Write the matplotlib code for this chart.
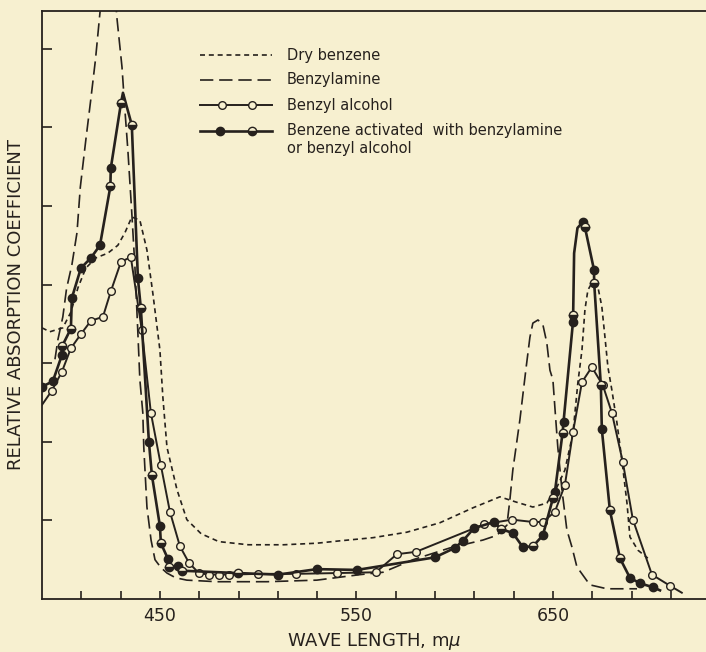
import numpy as np
import matplotlib.pyplot as plt
from matplotlib.lines import Line2D

# wave length (m-mu) and relative absorption
dry_wl = [390, 394, 400.6, 404.7, 408.3, 412.3, 417.4, 423.5, 428.6, 432.2, 435.7, 439.8,
          443.4, 446.4, 450, 451.5, 453.6, 458.7, 463.7, 471, 480, 495, 513, 530, 541.6,
          558.4, 575.7, 592.5, 609.3, 623, 631.7, 639.8, 646.9, 652, 656.1, 660.2, 662.7,
          664.8, 666.3, 667.8, 669.8, 670.9, 672.9, 674.9, 676.5, 678, 680, 682.6, 685.1,
          687.7, 689.2, 693.3, 698.3]
dry_val = [3.45, 3.40, 3.45, 3.65, 3.96, 4.21, 4.34, 4.40, 4.50, 4.66, 4.86, 4.82,
           4.44, 3.89, 3.17, 2.57, 1.93, 1.39, 1.01, 0.83, 0.73, 0.69, 0.69, 0.71, 0.74,
           0.78, 0.85, 0.97, 1.16, 1.30, 1.23, 1.17, 1.22, 1.42, 1.64, 2.11, 2.75,
           3.17, 3.68, 3.93, 4.02, 4.03, 3.97, 3.72, 3.33, 2.95, 2.66, 2.24, 1.77,
           1.22, 0.79, 0.62, 0.52]

bza_wl = [396.6, 398.1, 400.6, 402.5, 405.2, 407.8, 409.5, 412.3, 414.8, 417.2,
          419.5, 421.5, 424, 426.5, 428.1, 430.7, 432.2, 433.7, 435.7, 437.3,
          438.8, 439.8, 441.3, 441.8, 443.4, 445.5, 447.5, 450.5, 453.6, 458,
          463.7, 479, 504.5, 529.9, 551.8, 563.5, 578.8, 597.6, 614.4, 621.5,
          626.6, 628.1, 629.6, 633.2, 636.4, 638.3, 639.8, 642.4, 644.9, 646.9,
          648.5, 650, 651, 652.5, 654.6, 657.1, 659.7, 662.2, 668.8, 677.5, 692.8]
bza_val = [3.05, 3.30, 3.59, 3.95, 4.25, 4.66, 5.24, 5.84, 6.35, 6.86,
           7.46, 7.95, 8.15, 7.95, 7.40, 6.77, 6.22, 5.71, 4.91, 4.22,
           3.38, 2.79, 2.37, 1.93, 1.17, 0.75, 0.50, 0.40, 0.33, 0.27,
           0.24, 0.22, 0.22, 0.24, 0.31, 0.34, 0.50, 0.65, 0.75, 0.81,
           0.94, 1.26, 1.64, 2.28, 2.95, 3.33, 3.51, 3.55, 3.49, 3.26,
           2.91, 2.79, 2.44, 1.93, 1.39, 0.88, 0.66, 0.41, 0.18, 0.13, 0.13]

alc_wl = [390.0, 395.0, 400.1, 404.7, 409.8, 414.9, 421.0, 425.1, 430.2, 435.2,
          440.8, 445.4, 450.5, 455.1, 460.2, 464.8, 469.8, 474.9, 480.0, 485.1,
          499.9, 519.2, 540.1, 559.9, 570.6, 580.3, 614.9, 629.1, 639.8, 644.9,
          651.0, 656.1, 660.2, 664.8, 669.8, 675.4, 680.0, 685.6, 690.7, 700.4,
          709.5, 715.6]
alc_val = [2.47, 2.65, 2.89, 3.19, 3.37, 3.54, 3.59, 3.92, 4.29, 4.35,
           3.42, 2.37, 1.70, 1.11, 0.67, 0.46, 0.33, 0.31, 0.31, 0.31,
           0.32, 0.32, 0.33, 0.34, 0.57, 0.60, 0.95, 1.01, 0.98, 0.98,
           1.11, 1.45, 2.12, 2.76, 2.95, 2.72, 2.37, 1.74, 1.01, 0.31,
           0.17, 0.08]

# activated benzene: f = filled point, h = half filled point, '' = no point
act_wl = [390.0, 395.5, 400.1, 400.3, 404.7, 405.2, 409.8, 414.9, 419.5, 424.8,
          425.0, 430.2, 431.2, 435.7, 438.8, 440.3, 444.4, 445.9, 450.0, 450.5,
          454.1, 454.6, 459.2, 461.2, 489.7, 510.1, 529.9, 550.3, 590.0, 600.1,
          604.2, 609.8, 620.0, 623.5, 629.6, 634.7, 639.8, 644.9, 650.0, 651.0,
          654.9, 655.4, 660.2, 660.3, 660.8, 662.5, 665.3, 666.3, 670.9, 671.0,
          674.4, 674.9, 679.0, 684.1, 689.2, 694.3, 700.9, 704.5]
act_val = [2.70, 2.77, 3.10, 3.22, 3.44, 3.83, 4.21, 4.34, 4.50, 5.25,
           5.48, 6.31, 6.44, 6.03, 4.08, 3.70, 2.00, 1.58, 0.93, 0.71,
           0.51, 0.41, 0.42, 0.36, 0.33, 0.31, 0.38, 0.37, 0.53, 0.65,
           0.74, 0.90, 0.98, 0.89, 0.84, 0.66, 0.67, 0.81, 1.28, 1.36,
           2.11, 2.25, 3.52, 3.61, 4.40, 4.72, 4.80, 4.73, 4.19, 4.02,
           2.72, 2.16, 1.13, 0.52, 0.27, 0.20, 0.15, 0.11]
act_mark = ['f', 'f', 'f', 'h', 'h', 'f', 'f', 'f', 'f', 'h',
            'f', 'h', '', 'h', 'f', 'h', 'f', 'h', 'f', 'h',
            'f', 'h', 'f', 'h', 'h', 'f', 'f', 'f', 'f', 'f',
            'f', 'f', 'f', 'h', 'f', 'f', 'h', 'f', 'h', 'f',
            'h', 'f', 'f', 'h', '', '', 'f', 'h', 'f', 'h',
            'h', 'f', 'h', 'h', 'f', 'f', 'f', '']

labels = ['Dry benzene', 'Benzylamine', 'Benzyl alcohol',
          'Benzene activated  with benzylamine', 'or benzyl alcohol']
tick_pos = list(range(410, 730, 20))
tick_txt = ['450', '550', '650']

bg = '#f7f0d0'
ink = '#26211d'

plt.rcParams['font.family'] = ['DejaVu Sans']
fig = plt.figure(figsize=(7.06, 6.52), dpi=100, facecolor=bg)
ax = fig.add_axes([42 / 706, 53 / 652, 664 / 706, 588 / 652])
ax.set_facecolor(bg)

ax.plot(dry_wl, dry_val, color=ink, lw=1.2, dashes=(3.0, 2.3))
ax.plot(bza_wl, bza_val, color=ink, lw=1.2, dashes=(8, 3.5))
ax.plot(alc_wl, alc_val, color=ink, lw=1.4, marker='o', ms=5.5, mfc=bg, mec=ink,
        mew=1.0, markevery=slice(1, -1))
ax.plot(act_wl, act_val, color=ink, lw=1.9)

aw = np.array(act_wl)
av = np.array(act_val)
am = np.array(act_mark)
ax.plot(aw[am == 'f'], av[am == 'f'], ls='none', marker='o', ms=6, mfc=ink, mec=ink)
ax.plot(aw[am == 'h'], av[am == 'h'], ls='none', marker='o', ms=6, mfc=ink,
        mfcalt=bg, fillstyle='bottom', mec=ink, mew=1.0)

ax.set_xlim(390, 390 + 664 / 1.965)
ax.set_ylim(0, 588 / 78.6)
ax.set_xticks(tick_pos)
ax.set_xticklabels([str(t) if str(t) in tick_txt else '' for t in tick_pos])
ax.set_yticks(range(1, 8))
ax.set_yticklabels([])
ax.tick_params(direction='in', colors=ink, labelsize=12.5, pad=6)
ax.tick_params(axis='x', length=6, width=1.2)
ax.tick_params(axis='y', length=7.5, width=1.2)
for s in ['left', 'bottom', 'top']:
    ax.spines[s].set_color(ink)
    ax.spines[s].set_linewidth(1.3)
ax.spines['right'].set_visible(False)

ax.set_xlabel('WAVE LENGTH, m$\\mu$', fontsize=13, color=ink, labelpad=4)
ax.set_ylabel('RELATIVE ABSORPTION COEFFICIENT', fontsize=13, color=ink, labelpad=6)

# legend drawn by hand, as on the plate
tr = ax.transAxes
rows = [0.925, 0.883, 0.840, 0.796, 0.767]
x0, x1, xt = 0.238, 0.346, 0.369
ax.add_line(Line2D([x0, x1], [rows[0]] * 2, transform=tr, color=ink, lw=1.2, dashes=(3.0, 2.3)))
ax.add_line(Line2D([x0, x1], [rows[1]] * 2, transform=tr, color=ink, lw=1.2, dashes=(8, 3.5)))
ax.add_line(Line2D([x0, x1], [rows[2]] * 2, transform=tr, color=ink, lw=1.4))
ax.add_line(Line2D([0.271, 0.316], [rows[2]] * 2, transform=tr, ls='none', marker='o', ms=5.5,
                   mfc=bg, mec=ink, mew=1.0))
ax.add_line(Line2D([x0, x1], [rows[3]] * 2, transform=tr, color=ink, lw=1.9))
ax.add_line(Line2D([0.268], [rows[3]], transform=tr, ls='none', marker='o', ms=6, mfc=ink, mec=ink))
ax.add_line(Line2D([0.316], [rows[3]], transform=tr, ls='none', marker='o', ms=6, mfc=ink,
                   mfcalt=bg, fillstyle='bottom', mec=ink, mew=1.0))
for y, t in zip(rows, labels):
    ax.text(xt, y, t, transform=tr, fontsize=10.5, color=ink, va='center', ha='left')

fig.savefig('out.png', dpi=100, facecolor=bg)
